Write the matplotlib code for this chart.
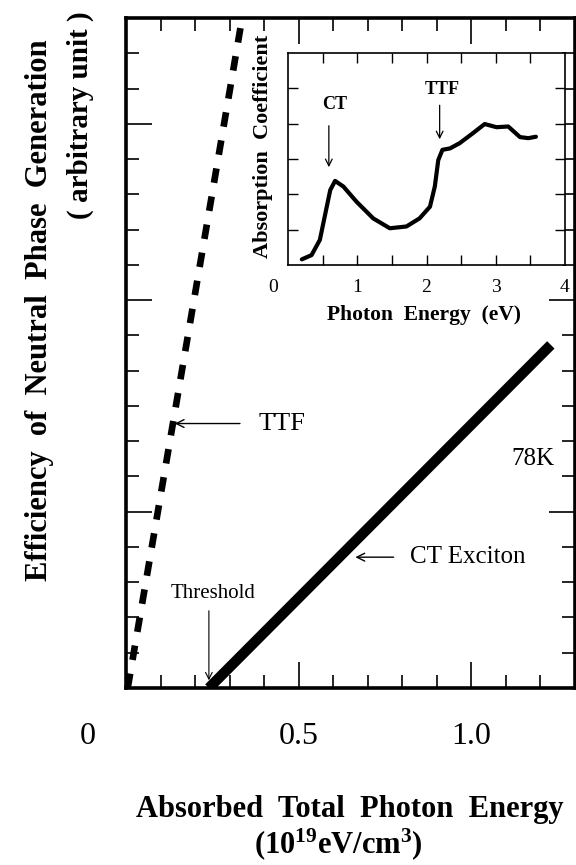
import numpy as np
import matplotlib
matplotlib.use("Agg")
import matplotlib.pyplot as plt

plt.rcParams['font.family'] = ['Liberation Serif', 'DejaVu Serif']
plt.rcParams['mathtext.fontset'] = 'custom'
plt.rcParams['mathtext.rm'] = 'Liberation Serif:bold'
plt.rcParams['mathtext.it'] = 'Liberation Serif:bold'
plt.rcParams['lines.scale_dashes'] = False

# main panel: two straight lines (absorbed energy, 1e19 eV/cm3 vs efficiency)
ttf_x = [0.005, 0.338]
ttf_y = [0.0, 19.1]
ct_x = [0.24, 1.23]
ct_y = [0.0, 9.73]

# inset: absorption spectrum
ph_energy = [0.20, 0.34, 0.46, 0.53, 0.61, 0.68, 0.80, 0.99, 1.23, 1.47, 1.71, 1.90,
             2.05, 2.12, 2.17, 2.23, 2.34, 2.48, 2.67, 2.84, 3.01, 3.18, 3.35, 3.47, 3.58]
absorb = [0.16, 0.28, 0.71, 1.37, 2.12, 2.38, 2.22, 1.79, 1.32, 1.04, 1.09, 1.32,
          1.65, 2.22, 2.97, 3.26, 3.30, 3.45, 3.73, 3.99, 3.90, 3.92, 3.62, 3.59, 3.63]

main_xlabels = ["0", "0.5", "1.0"]
inset_xlabels = ["0", "1", "2", "3", "4"]

def spaced(s):
    # wider word spacing like the original typesetting
    return s.replace(" ", "  ")

fig = plt.figure(figsize=(5.76, 8.65), dpi=100)
ax = fig.add_axes([126/576, 1-688/865, 449/576, 670/865])
ax.set_xlim(0, 1.3)
ax.set_ylim(0, 19)

ax.plot(ttf_x, ttf_y, color='black', lw=4.8, dashes=(10.5, 10),
        solid_capstyle='butt', dash_capstyle='butt', clip_on=False)
ax.plot(ct_x, ct_y, color='black', lw=7.5, solid_capstyle='butt')

for s in ax.spines.values():
    s.set_linewidth(2.6)

xt = np.arange(1, 13) / 10
ax.set_xticks([0.5, 1.0])
ax.set_xticks([t for t in xt if t not in (0.5, 1.0)], minor=True)
yt = np.arange(1, 19)
ax.set_yticks([5, 11, 16])
ax.set_yticks([t for t in yt if t not in (5, 11, 16)], minor=True)
ax.tick_params(which='both', direction='in', top=True, right=True,
               labelbottom=False, labelleft=False, width=1.2)
ax.tick_params(which='major', length=19)
ax.tick_params(which='minor', length=9.5)

# main tick labels
for xv, lab in zip([-0.11, 0.5, 1.0], main_xlabels):
    ax.text(xv, -48.5/670, lab, transform=ax.get_xaxis_transform(),
            ha='center', va='center', fontsize=23)

# annotations in the main panel
ax.text(0.383, 7.5, "TTF", ha='left', va='center', fontsize=19)
ax.annotate("", xy=(0.133, 7.5), xytext=(0.338, 7.5),
            arrowprops=dict(arrowstyle='->', lw=1.0, color='black', mutation_scale=14))
ax.text(0.821, 3.71, "CT Exciton", ha='left', va='center', fontsize=18)
ax.annotate("", xy=(0.656, 3.71), xytext=(0.783, 3.71),
            arrowprops=dict(arrowstyle='->', lw=1.0, color='black', mutation_scale=14))
ax.text(1.24, 6.5, "78K", ha='right', va='center', fontsize=18)
ax.text(0.251, 2.69, "Threshold", ha='center', va='center', fontsize=15)
ax.annotate("", xy=(0.24, 0.14), xytext=(0.24, 2.27),
            arrowprops=dict(arrowstyle='->', lw=0.8, color='black', mutation_scale=12))

fig.text(40/576, 1-310/865, spaced("Efficiency of Neutral Phase Generation"), rotation=90,
         ha='center', va='center', fontsize=22, fontweight='bold')
fig.text(80/576, 1-115/865, "( arbitrary unit )", rotation=90,
         ha='center', va='center', fontsize=21, fontweight='bold')
fig.text(350/576, 1-817/865, spaced("Absorbed Total Photon Energy"),
         ha='center', va='baseline', fontsize=22, fontweight='bold')
fig.text(338/576, 1-853/865, r"$\mathrm{(10^{19}eV/cm^{3})}$",
         ha='center', va='baseline', fontsize=22)

# inset
ins = fig.add_axes([288/576, 1-265/865, 277/576, 212/865])
ins.plot(ph_energy, absorb, color='black', lw=3.0, solid_capstyle='round')
ins.set_xlim(0, 4)
ins.set_ylim(0, 6)
for s in ins.spines.values():
    s.set_linewidth(1.2)
ins.set_xticks(np.arange(0.5, 4, 0.5))
ins.set_yticks(np.arange(1, 6))
ins.tick_params(direction='in', top=True, right=True, length=7, width=1.0,
                labelbottom=False, labelleft=False)
for xv, lab in zip([-0.22, 1, 2, 3, 4], inset_xlabels):
    ins.text(xv, -22/212, lab, transform=ins.get_xaxis_transform(),
             ha='center', va='center', fontsize=14)
ins.text(0.68, 4.53, "CT", ha='center', va='center', fontsize=13, fontweight='bold')
ins.annotate("", xy=(0.59, 2.69), xytext=(0.59, 4.02),
             arrowprops=dict(arrowstyle='->', lw=0.9, color='black', mutation_scale=12))
ins.text(2.22, 4.96, "TTF", ha='center', va='center', fontsize=13, fontweight='bold')
ins.annotate("", xy=(2.19, 3.48), xytext=(2.19, 4.6),
             arrowprops=dict(arrowstyle='->', lw=0.9, color='black', mutation_scale=12))
fig.text(263/576, 1-146/865, spaced("Absorption Coefficient"), rotation=90,
         ha='center', va='center', fontsize=16, fontweight='bold')
fig.text(424/576, 1-315/865, spaced("Photon Energy (eV)"),
         ha='center', va='center', fontsize=15.5, fontweight='bold')

fig.savefig("out.png", dpi=100)
